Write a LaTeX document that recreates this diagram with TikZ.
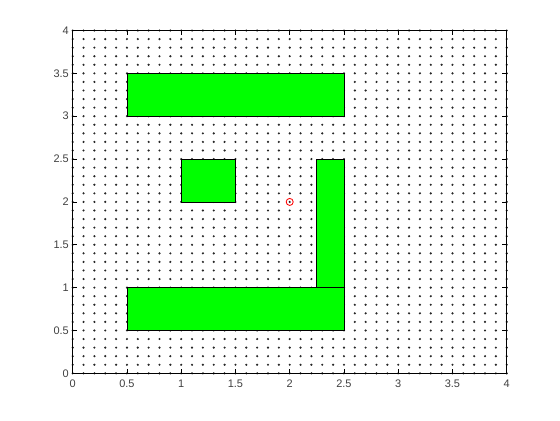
\documentclass[tikz,border=0pt]{standalone}
\usepackage{fontspec}
\setmainfont{Liberation Sans}
\begin{document}
\begin{tikzpicture}[x=2.7125cm,y=2.1425cm,
  obstacle/.style={fill=green, draw=black, line width=0.5pt},
  ticklabel/.style={font=\fontsize{7.8}{9}\selectfont, text=black!75, inner sep=0pt}]
  \useasboundingbox (-0.670,-0.545) rectangle (4.491,4.356);

  % grid of sample points
  \foreach \i in {0,...,40}
    \foreach \j in {0,...,40}
      \fill[black!85] (\i/10,\j/10) circle (0.85pt);

  % obstacles
  \draw[obstacle] (0.5,3) rectangle (2.5,3.5);
  \draw[obstacle] (1,2) rectangle (1.5,2.5);
  \draw[obstacle] (2.25,1) rectangle (2.5,2.5);
  \draw[obstacle] (0.5,0.5) rectangle (2.5,1);

  % start point
  \node[circle, draw=red, line width=0.6pt, minimum size=5pt, inner sep=0pt] (start) at (2,2) {};

  % axes and ticks
  \draw[black, line width=0.7pt] (0,0) rectangle (4,4);
  \foreach \t [count=\k] in {0,0.5,1,1.5,2,2.5,3,3.5,4} {
    \draw[black, line width=0.5pt] (\t,0) -- ++(0,0.11cm);
    \draw[black, line width=0.5pt] (\t,4) -- ++(0,-0.11cm);
    \draw[black, line width=0.5pt] (0,\t) -- ++(0.11cm,0);
    \draw[black, line width=0.5pt] (4,\t) -- ++(-0.11cm,0);
    \node[ticklabel, anchor=north, yshift=-4.3pt] (xl\k) at (\t,0) {\t};
    \node[ticklabel, anchor=east, xshift=-2.6pt] (yl\k) at (0,\t) {\t};
  }
\end{tikzpicture}
\end{document}
